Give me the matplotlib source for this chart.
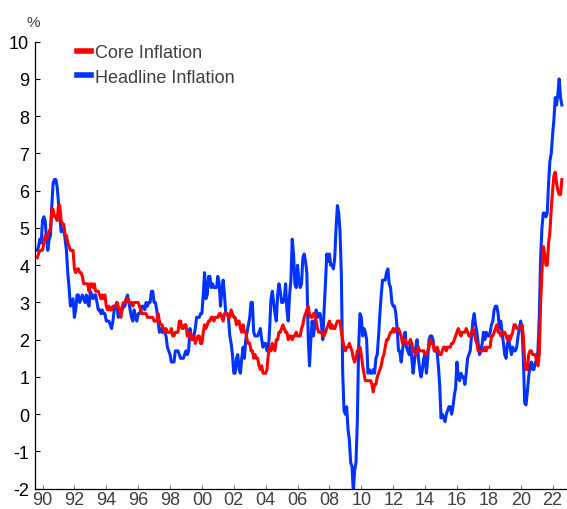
import numpy as np
import pandas as pd
import matplotlib
matplotlib.use("Agg")
import matplotlib.pyplot as plt

# US CPI, year-over-year % change, monthly from Sep 1989 to Aug 2022
start_month = "1989-09"

headline = [
    4.4, 4.5, 4.7, 4.6,                                              # 1989 (Sep-Dec)
    5.2, 5.3, 5.2, 4.7, 4.4, 4.7, 4.8, 5.6, 6.2, 6.3, 6.3, 6.1,      # 1990
    5.7, 5.3, 4.9, 4.9, 5.0, 4.7, 4.4, 3.8, 3.4, 2.9, 3.0, 3.1,      # 1991
    2.6, 2.8, 3.2, 3.2, 3.0, 3.1, 3.2, 3.1, 3.0, 3.2, 3.0, 2.9,      # 1992
    3.3, 3.2, 3.1, 3.2, 3.2, 3.0, 2.8, 2.8, 2.7, 2.8, 2.7, 2.7,      # 1993
    2.5, 2.5, 2.5, 2.4, 2.3, 2.5, 2.8, 2.9, 3.0, 2.6, 2.7, 2.7,      # 1994
    2.8, 2.9, 2.9, 3.1, 3.2, 3.0, 2.8, 2.6, 2.5, 2.8, 2.6, 2.5,      # 1995
    2.7, 2.7, 2.8, 2.9, 2.9, 2.8, 3.0, 2.9, 3.0, 3.0, 3.3, 3.3,      # 1996
    3.0, 3.0, 2.8, 2.5, 2.2, 2.3, 2.2, 2.2, 2.2, 2.1, 1.8, 1.7,      # 1997
    1.6, 1.4, 1.4, 1.4, 1.7, 1.7, 1.7, 1.6, 1.5, 1.5, 1.5, 1.6,      # 1998
    1.7, 1.6, 1.7, 2.3, 2.1, 2.0, 2.1, 2.3, 2.6, 2.6, 2.6, 2.7,      # 1999
    2.7, 3.2, 3.8, 3.1, 3.2, 3.7, 3.7, 3.4, 3.5, 3.4, 3.4, 3.4,      # 2000
    3.7, 3.5, 2.9, 3.3, 3.6, 3.2, 2.7, 2.7, 2.6, 2.1, 1.9, 1.6,      # 2001
    1.1, 1.1, 1.5, 1.6, 1.2, 1.1, 1.5, 1.8, 1.5, 2.0, 2.2, 2.4,      # 2002
    2.6, 3.0, 3.0, 2.2, 2.1, 2.1, 2.1, 2.2, 2.3, 2.0, 1.8, 1.9,      # 2003
    1.9, 1.7, 1.7, 2.3, 3.1, 3.3, 3.0, 2.7, 2.5, 3.2, 3.5, 3.3,      # 2004
    3.0, 3.0, 3.1, 3.5, 2.8, 2.5, 3.2, 3.6, 4.7, 4.3, 3.5, 3.4,      # 2005
    4.0, 3.6, 3.4, 3.5, 4.2, 4.3, 4.1, 3.8, 2.1, 1.3, 2.0, 2.5,      # 2006
    2.1, 2.4, 2.8, 2.6, 2.7, 2.7, 2.4, 2.0, 2.8, 3.5, 4.3, 4.1,      # 2007
    4.3, 4.0, 4.0, 3.9, 4.2, 5.0, 5.6, 5.4, 4.9, 3.7, 1.1, 0.1,      # 2008
    0.0, 0.2, -0.4, -0.7, -1.3, -1.4, -2.1, -1.5, -1.3, -0.2, 1.8, 2.7,  # 2009
    2.6, 2.1, 2.3, 2.2, 2.0, 1.1, 1.2, 1.1, 1.1, 1.2, 1.1, 1.5,      # 2010
    1.6, 2.1, 2.7, 3.2, 3.6, 3.6, 3.6, 3.8, 3.9, 3.5, 3.4, 3.0,      # 2011
    2.9, 2.9, 2.7, 2.3, 1.7, 1.7, 1.4, 1.7, 2.0, 2.2, 1.8, 1.7,      # 2012
    1.6, 2.0, 1.5, 1.1, 1.4, 1.8, 2.0, 1.5, 1.2, 1.0, 1.2, 1.5,      # 2013
    1.6, 1.1, 1.5, 2.0, 2.1, 2.1, 2.0, 1.7, 1.7, 1.7, 1.3, 0.8,      # 2014
    -0.1, 0.0, -0.1, -0.2, 0.0, 0.1, 0.2, 0.2, 0.0, 0.2, 0.5, 0.7,   # 2015
    1.4, 1.0, 0.9, 1.1, 1.0, 1.0, 0.8, 1.1, 1.5, 1.6, 1.7, 2.1,      # 2016
    2.5, 2.7, 2.4, 2.2, 1.9, 1.6, 1.7, 1.9, 2.2, 2.0, 2.2, 2.1,      # 2017
    2.1, 2.2, 2.4, 2.5, 2.8, 2.9, 2.9, 2.7, 2.3, 2.5, 2.2, 1.9,      # 2018
    1.6, 1.5, 1.9, 2.0, 1.8, 1.6, 1.8, 1.7, 1.7, 1.8, 2.1, 2.3,      # 2019
    2.5, 2.3, 1.5, 0.3, 0.25, 0.6, 1.0, 1.3, 1.4, 1.2, 1.2, 1.4,     # 2020
    1.4, 1.7, 2.6, 4.2, 5.0, 5.4, 5.4, 5.3, 5.4, 6.2, 6.8, 7.0,      # 2021
    7.5, 7.9, 8.5, 8.3, 8.6, 9.0, 8.5, 8.3,                          # 2022 (Jan-Aug)
]

core = [
    4.2, 4.3, 4.4, 4.4,                                              # 1989 (Sep-Dec)
    4.4, 4.6, 4.8, 4.7, 4.8, 4.9, 5.0, 5.5, 5.5, 5.3, 5.3, 5.2,      # 1990
    5.6, 5.6, 5.2, 5.1, 5.1, 4.8, 4.8, 4.6, 4.5, 4.4, 4.4, 4.4,      # 1991
    3.9, 3.8, 3.9, 3.9, 3.8, 3.8, 3.7, 3.5, 3.5, 3.5, 3.5, 3.3,      # 1992
    3.5, 3.5, 3.4, 3.5, 3.3, 3.3, 3.3, 3.2, 3.1, 3.2, 3.1, 3.2,      # 1993
    2.9, 2.8, 2.9, 2.8, 2.8, 2.9, 2.9, 2.9, 3.0, 2.9, 2.8, 2.6,      # 1994
    2.9, 3.0, 3.0, 3.1, 3.1, 3.0, 3.0, 3.0, 2.9, 3.0, 3.0, 3.0,      # 1995
    3.0, 2.9, 2.8, 2.7, 2.7, 2.7, 2.7, 2.6, 2.6, 2.6, 2.6, 2.6,      # 1996
    2.5, 2.5, 2.5, 2.7, 2.5, 2.4, 2.4, 2.3, 2.2, 2.3, 2.2, 2.2,      # 1997
    2.2, 2.3, 2.1, 2.1, 2.2, 2.2, 2.2, 2.5, 2.5, 2.3, 2.3, 2.4,      # 1998
    2.4, 2.1, 2.1, 2.2, 2.0, 2.1, 2.1, 1.9, 2.0, 2.1, 2.1, 1.9,      # 1999
    1.9, 2.2, 2.4, 2.3, 2.4, 2.5, 2.5, 2.6, 2.6, 2.5, 2.6, 2.6,      # 2000
    2.6, 2.7, 2.7, 2.6, 2.5, 2.7, 2.7, 2.7, 2.6, 2.6, 2.8, 2.7,      # 2001
    2.6, 2.6, 2.4, 2.5, 2.5, 2.3, 2.2, 2.4, 2.2, 2.2, 2.0, 1.9,      # 2002
    1.9, 1.7, 1.7, 1.5, 1.6, 1.5, 1.5, 1.3, 1.2, 1.3, 1.1, 1.1,      # 2003
    1.1, 1.2, 1.6, 1.8, 1.7, 1.9, 1.8, 1.7, 2.0, 2.0, 2.2, 2.2,      # 2004
    2.3, 2.4, 2.3, 2.2, 2.2, 2.0, 2.1, 2.1, 2.0, 2.1, 2.1, 2.2,      # 2005
    2.1, 2.1, 2.1, 2.3, 2.4, 2.6, 2.7, 2.8, 2.9, 2.7, 2.6, 2.6,      # 2006
    2.7, 2.7, 2.5, 2.3, 2.2, 2.2, 2.2, 2.1, 2.1, 2.2, 2.3, 2.4,      # 2007
    2.5, 2.3, 2.4, 2.3, 2.3, 2.4, 2.5, 2.5, 2.5, 2.2, 2.0, 1.8,      # 2008
    1.7, 1.8, 1.8, 1.9, 1.8, 1.7, 1.5, 1.4, 1.5, 1.7, 1.7, 1.8,      # 2009
    1.6, 1.3, 1.1, 0.9, 0.9, 0.9, 0.9, 0.9, 0.8, 0.6, 0.8, 0.8,      # 2010
    1.0, 1.1, 1.2, 1.3, 1.5, 1.6, 1.8, 2.0, 2.0, 2.1, 2.2, 2.2,      # 2011
    2.3, 2.2, 2.3, 2.3, 2.3, 2.2, 2.1, 1.9, 2.0, 2.0, 1.9, 1.9,      # 2012
    1.9, 2.0, 1.9, 1.7, 1.7, 1.6, 1.7, 1.8, 1.7, 1.7, 1.7, 1.7,      # 2013
    1.6, 1.6, 1.7, 1.8, 2.0, 1.9, 1.9, 1.7, 1.7, 1.8, 1.7, 1.6,      # 2014
    1.6, 1.7, 1.8, 1.8, 1.7, 1.8, 1.8, 1.8, 1.9, 1.9, 2.0, 2.1,      # 2015
    2.2, 2.3, 2.2, 2.1, 2.2, 2.2, 2.2, 2.3, 2.2, 2.1, 2.1, 2.2,      # 2016
    2.3, 2.2, 2.0, 1.9, 1.7, 1.7, 1.7, 1.7, 1.7, 1.8, 1.7, 1.8,      # 2017
    1.8, 1.8, 2.1, 2.1, 2.2, 2.3, 2.4, 2.2, 2.2, 2.1, 2.2, 2.2,      # 2018
    2.2, 2.1, 2.0, 2.1, 2.0, 2.1, 2.2, 2.4, 2.4, 2.3, 2.3, 2.3,      # 2019
    2.3, 2.4, 2.1, 1.4, 1.2, 1.2, 1.6, 1.7, 1.7, 1.6, 1.6, 1.6,      # 2020
    1.4, 1.3, 1.6, 3.0, 3.8, 4.5, 4.3, 4.0, 4.0, 4.6, 4.9, 5.5,      # 2021
    6.0, 6.4, 6.5, 6.2, 6.0, 5.9, 5.9, 6.3,                          # 2022 (Jan-Aug)
]

tick_years = list(range(1990, 2023, 2))
tick_labels = [f"{y % 100:02d}" for y in tick_years]

plt.rcParams["font.family"] = ["Liberation Sans", "DejaVu Sans"]
plt.rcParams["axes.unicode_minus"] = False

dates = pd.date_range(start_month, periods=len(headline), freq="MS")
x = dates.year + (dates.month - 1) / 12.0

fig = plt.figure(figsize=(5.67, 5.10), dpi=100)
ax = fig.add_axes([0.0626, 0.0398, 0.9374, 0.8765])

ax.plot(x, headline, color="#0033ff", lw=2.2, label="Headline Inflation", zorder=2)
ax.plot(x, core, color="#ff0000", lw=2.2, label="Core Inflation", zorder=3)

ax.set_xlim(1989.56, 2022.905)
ax.set_ylim(-2, 10)
ax.set_yticks(range(-2, 11))
ax.set_xticks(tick_years)
ax.set_xticklabels(tick_labels)

for s in ["top", "right"]:
    ax.spines[s].set_visible(False)
for s in ["left", "bottom"]:
    ax.spines[s].set_linewidth(0.9)
    ax.spines[s].set_color("black")

ax.tick_params(axis="y", direction="in", length=3.5, width=0.8, color="black",
               labelsize=13, pad=4.5, labelcolor="black")
ax.tick_params(axis="x", direction="in", length=3, width=0.8, color="#808080",
               labelsize=13, pad=1.5, labelcolor="#404040")

ax.text(-0.005, 1.045, "%", transform=ax.transAxes, ha="center", va="center",
        fontsize=11, color="#404040")

handles, labels = ax.get_legend_handles_labels()
leg = ax.legend(handles[::-1], labels[::-1], loc="upper left",
                bbox_to_anchor=(0.078, 0.995), frameon=False, fontsize=13,
                handlelength=0.8, handletextpad=0.2, labelspacing=0.42,
                borderpad=0, borderaxespad=0)
for line in leg.get_lines():
    line.set_linewidth(4)
for t in leg.get_texts():
    t.set_color("#404040")

fig.savefig("out.png", dpi=100)
